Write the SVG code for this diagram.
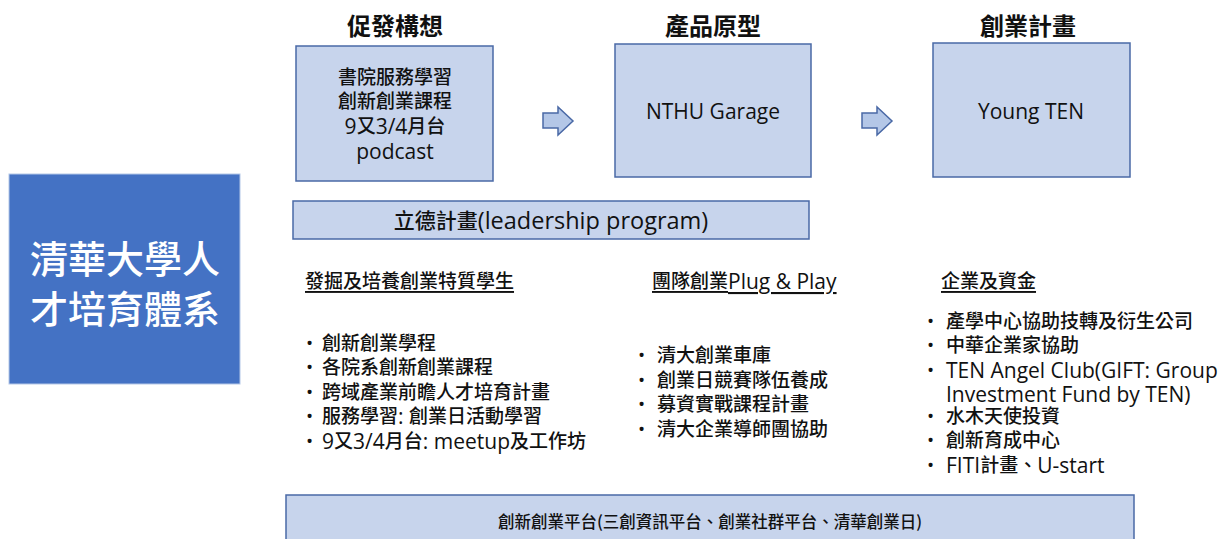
<svg xmlns="http://www.w3.org/2000/svg" width="1228" height="539" viewBox="0 0 1228 539">
<style>
text{font-family:"Open Sans","Noto Sans CJK TC",sans-serif;fill:#111;font-weight:500;}
.box{fill:#C7D4EC;stroke:#4A69A6;stroke-width:1.5;}
.arrow{fill:#B4C7E7;stroke:#4A69A6;stroke-width:1.5;stroke-linejoin:miter;}
.title{font-size:24px;font-weight:bold;text-anchor:middle;font-family:"Noto Sans CJK TC",sans-serif;}
.bt{font-size:19px;text-anchor:middle;}
.hd{font-size:19px;text-decoration:underline;}
.li{font-size:19px;}
.e{font-size:21px;}
.mid{dominant-baseline:central;}
</style>
<rect width="1228" height="539" fill="#fff"/>
<g id="main">
<rect x="9" y="174" width="231" height="210" fill="#4472C4" stroke="#B4C7E7" stroke-width="1"/>
<text x="125" y="256" class="mid" style="font-size:38px;fill:#fff;text-anchor:middle;font-family:'Noto Sans CJK TC',sans-serif;">清華大學人</text>
<text x="125" y="306" class="mid" style="font-size:38px;fill:#fff;text-anchor:middle;font-family:'Noto Sans CJK TC',sans-serif;">才培育體系</text>
</g>
<g id="stage1">
<text x="395" y="24" class="title mid">促發構想</text>
<rect class="box" x="296" y="46" width="197" height="135"/>
<text class="bt mid" x="395" y="77">書院服務學習</text>
<text class="bt mid" x="395" y="101">創新創業課程</text>
<text class="bt mid" x="395" y="126"><tspan class="e">9</tspan>又<tspan class="e">3/4</tspan>月台</text>
<text class="bt mid e" x="395" y="151">podcast</text>
</g>
<g id="stage2">
<text x="713" y="24" class="title mid">產品原型</text>
<rect class="box" x="615" y="44" width="196" height="133"/>
<text class="bt mid e" x="713" y="111">NTHU Garage</text>
</g>
<g id="stage3">
<text x="1028" y="24" class="title mid">創業計畫</text>
<rect class="box" x="933" y="43" width="197" height="134"/>
<text class="bt mid e" x="1031" y="111">Young TEN</text>
</g>
<g id="connectors">
<polygon class="arrow" points="543,113 558,113 558,107 573,121 558,135 558,128 543,128"/>
<polygon class="arrow" points="862,113 877,113 877,107 892,121 877,135 877,128 862,128"/>
</g>
<g id="leadership">
<rect class="box" x="293" y="201" width="516" height="38"/>
<text class="mid" x="551" y="220" style="font-size:21px;text-anchor:middle;">立德計畫<tspan style="font-size:23.5px">(leadership program)</tspan></text>
</g>
<g id="col1">
<text class="hd mid" x="305" y="281">發掘及培養創業特質學生</text>
<text class="li mid" y="343"><tspan x="306">•</tspan><tspan x="322">創新創業學程</tspan></text>
<text class="li mid" y="367"><tspan x="306">•</tspan><tspan x="322">各院系創新創業課程</tspan></text>
<text class="li mid" y="392"><tspan x="306">•</tspan><tspan x="322">跨域產業前瞻人才培育計畫</tspan></text>
<text class="li mid" y="416"><tspan x="306">•</tspan><tspan x="322">服務學習<tspan class="e">: </tspan>創業日活動學習</tspan></text>
<text class="li mid" y="441"><tspan x="306">•</tspan><tspan x="322"><tspan class="e">9</tspan>又<tspan class="e">3/4</tspan>月台<tspan class="e">: meetup</tspan>及工作坊</tspan></text>
</g>
<g id="col2">
<text class="hd mid" x="652" y="281">團隊創業<tspan class="e">Plug &amp; Play</tspan></text>
<text class="li mid" y="355"><tspan x="638">•</tspan><tspan x="657">清大創業車庫</tspan></text>
<text class="li mid" y="380"><tspan x="638">•</tspan><tspan x="657">創業日競賽隊伍養成</tspan></text>
<text class="li mid" y="404"><tspan x="638">•</tspan><tspan x="657">募資實戰課程計畫</tspan></text>
<text class="li mid" y="429"><tspan x="638">•</tspan><tspan x="657">清大企業導師團協助</tspan></text>
</g>
<g id="col3">
<text class="hd mid" x="941" y="281">企業及資金</text>
<text class="li mid" y="321"><tspan x="927">•</tspan><tspan x="946">產學中心協助技轉及衍生公司</tspan></text>
<text class="li mid" y="345"><tspan x="927">•</tspan><tspan x="946">中華企業家協助</tspan></text>
<text class="li mid" y="370"><tspan x="927">•</tspan><tspan x="946" class="e">TEN Angel Club(GIFT: Group</tspan></text>
<text class="li mid" y="394"><tspan x="946" class="e">Investment Fund by TEN)</tspan></text>
<text class="li mid" y="416"><tspan x="927">•</tspan><tspan x="946">水木天使投資</tspan></text>
<text class="li mid" y="440"><tspan x="927">•</tspan><tspan x="946">創新育成中心</tspan></text>
<text class="li mid" y="465"><tspan x="927">•</tspan><tspan x="946"><tspan class="e">FITI</tspan>計畫、<tspan class="e">U-start</tspan></tspan></text>
</g>
<g id="platform">
<rect class="box" x="286" y="495" width="848" height="50"/>
<text class="mid" x="710" y="521" style="font-size:16.5px;text-anchor:middle;font-family:'Noto Sans CJK TC',sans-serif;">創新創業平台(三創資訊平台、創業社群平台、清華創業日)</text>
</g>
</svg>
